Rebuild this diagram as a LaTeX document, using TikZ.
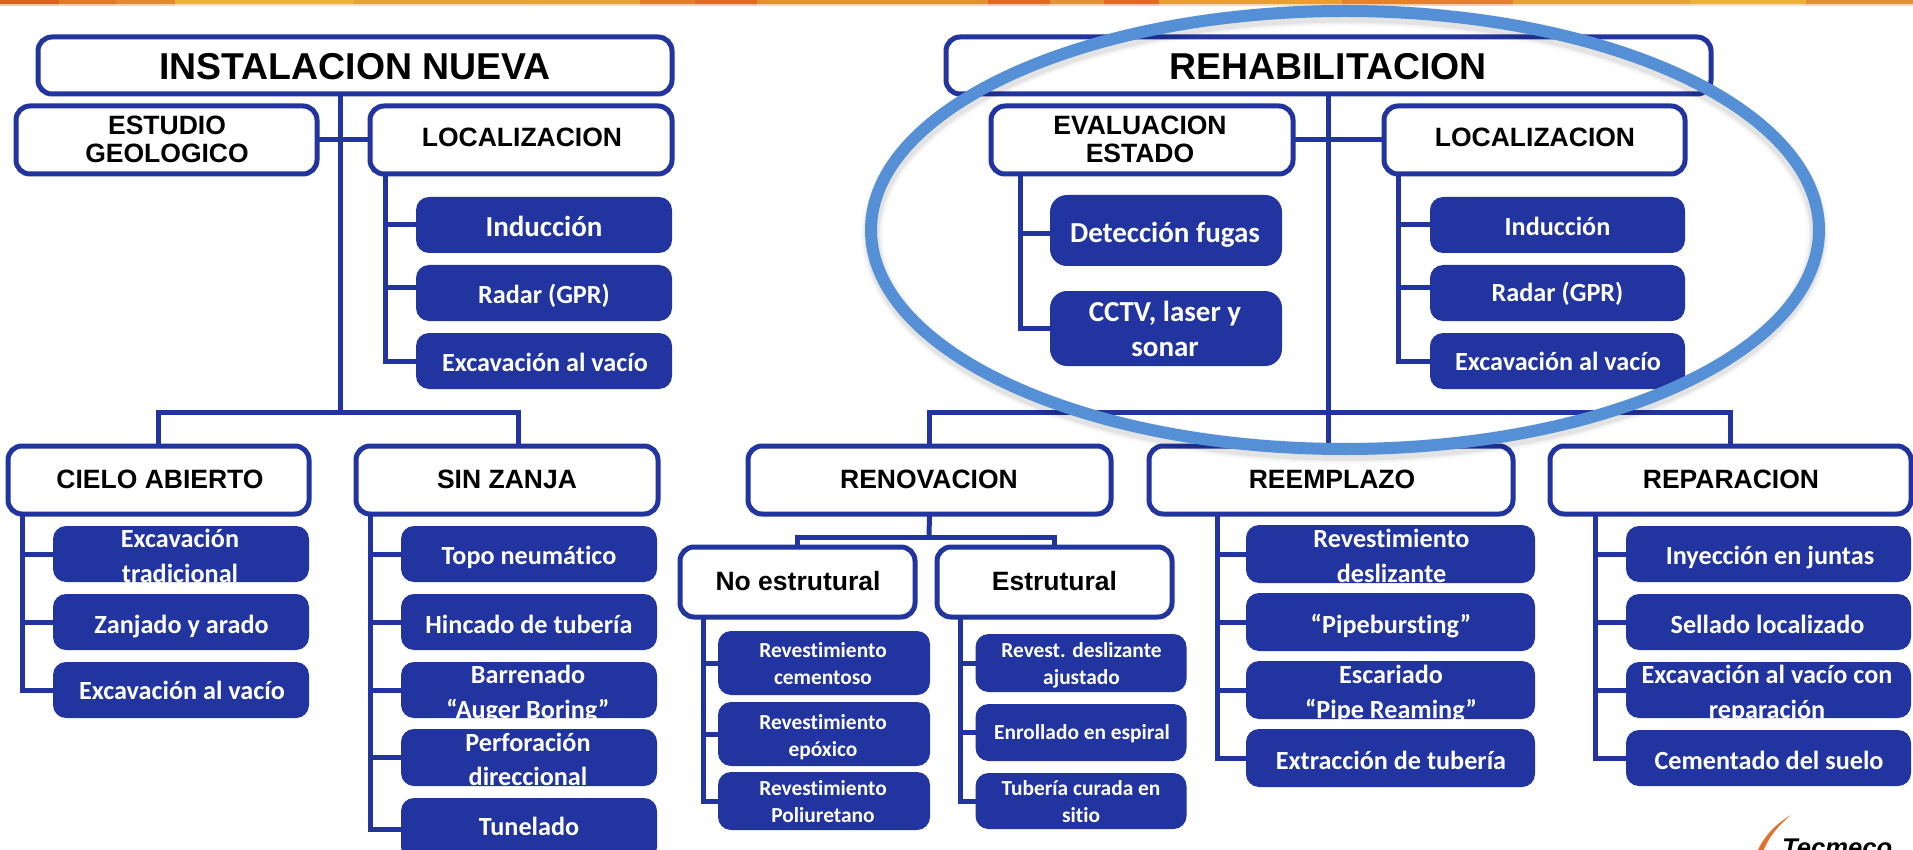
\documentclass[tikz,border=0pt]{standalone}
\usepackage{fontspec}
\setmainfont{Liberation Sans}
\newfontfamily\calib[Ligatures=NoCommon]{Carlito}
\definecolor{navy}{HTML}{21349F}
\definecolor{ringblue}{HTML}{558FD5}
\definecolor{logoorange}{HTML}{E2702A}
\tikzset{
  conn/.style={draw=navy,line width=5pt,line join=miter},
  whitebox/.style={draw=navy,line width=5pt,fill=white,rounded corners=14pt,inner sep=0pt,outer sep=0pt},
  bluebox/.style={fill=navy,draw=none,inner sep=0pt,outer sep=0pt},
  blacklabel/.style={text=black,align=center,inner sep=0pt,outer sep=0pt},
  whitelabel/.style={text=white,align=center,inner sep=0pt,outer sep=0pt},
}
\newcommand{\s}{\strut}
\def\brad{13}
% name x1 y1 x2 y2 textcentre size leading text
\newcommand{\wbox}[9]{%
  \pgfmathsetmacro\bw{#4-#2}\pgfmathsetmacro\bh{#5-#3}%
  \pgfmathsetmacro\bx{(#4+#2)/2}\pgfmathsetmacro\by{(#5+#3)/2}%
  \node[whitebox,minimum width=\bw pt,minimum height=\bh pt] (#1) at (\bx,\by) {};
  \node[blacklabel,font=\bfseries\fontsize{#7}{#8}\selectfont] (#1-t) at (#6) {#9};
}
\newcommand{\bbox}[9]{%
  \pgfmathsetmacro\bw{#4-#2}\pgfmathsetmacro\bh{#5-#3}%
  \pgfmathsetmacro\bx{(#4+#2)/2}\pgfmathsetmacro\by{(#5+#3)/2}%
  \node[bluebox,rounded corners=\brad pt,minimum width=\bw pt,minimum height=\bh pt] (#1) at (\bx,\by) {};
  \begin{scope}
    \clip[rounded corners=\brad pt] (#2,#3) rectangle (#4,#5);
    \node[whitelabel,font=\calib\bfseries\fontsize{#7}{#8}\selectfont] (#1-t) at (#6) {#9};
  \end{scope}
}
\begin{document}
\begin{tikzpicture}[x=1pt,y=-1pt]
\useasboundingbox (0,0) rectangle (1913,850);
\clip (0,0) rectangle (1913,850);
\fill[white] (0,0) rectangle (1913,850);
% top strip
\foreach \xa/\xb/\c in {0/59/E06018,59/116/E87820,116/175/E88828,175/354/F0B030,354/525/EBA030,525/640/EDA035,640/695/E87C20,695/757/E46A1A,757/988/E98F28,988/1050/E46A1A,1050/1104/E99030,1104/1159/E46A1A,1159/1342/EE9D2C,1342/1513/E88028,1513/1690/EBA030,1690/1806/F0B030,1806/1913/E89030}{
  \definecolor{stripc}{HTML}{\c}
  \fill[stripc] (\xa,0) rectangle (\xb,4);
  \fill[stripc,opacity=.35] (\xa,4) rectangle (\xb,6);
}
% junction coordinates
\coordinate (a0) at (340,94);
\coordinate (aj) at (340,412);
\coordinate (as) at (518,446);
\coordinate (b0) at (1328,94);
\coordinate (bj) at (1328,412);
\coordinate (bt) at (1328,446);
\coordinate (rj) at (416,287);
\coordinate (rk) at (1430,287);
\coordinate (dj) at (1050,234);
\coordinate (lb) at (385,174);
\coordinate (cb) at (22,514);
\coordinate (sb) at (370,514);
\coordinate (eb) at (1020,174);
\coordinate (mb) at (1398,174);
\coordinate (nb) at (703,617);
\coordinate (fb) at (960,617);
\coordinate (gb) at (1217,514);
\coordinate (pb) at (1595,514);
\coordinate (rnj) at (929,537);
\bbox{ind}{416}{197}{672}{253}{544,229.5}{29}{34}{\s Inducción}
\bbox{rad}{416}{265}{672}{321}{544,296.5}{26.2}{34}{\s Radar (GPR)}
\bbox{exv}{416}{333}{672}{389}{545,365}{26.2}{34}{\s Excavación al vacío}
\bbox{c1}{53}{526}{309}{582}{180,558}{26.2}{35}{\s Excavación\\\s tradicional}
\bbox{c2}{53}{594}{309}{650}{181.5,627}{26.2}{34}{\s Zanjado y arado}
\bbox{c3}{53}{662}{309}{718}{182,693}{26.2}{34}{\s Excavación al vacío}
\bbox{s1}{401}{526}{657}{582}{529,557.5}{26.2}{34}{\s Topo neumático}
\bbox{s2}{401}{594}{657}{650}{529,627}{26.2}{34}{\s Hincado de tubería}
\bbox{s3}{401}{662}{657}{718}{528,693.5}{26.2}{35}{\s Barrenado\\\s “Auger Boring”}
\bbox{s4}{401}{729}{657}{786}{528,761.5}{26.2}{34}{\s Perforación\\\s direccional}
\bbox{s5}{401}{798}{657}{860}{529,829}{26.2}{34}{\s Tunelado}
\def\brad{17}
\bbox{det}{1050}{195}{1282}{266}{1165,235.5}{29}{35}{\s Detección fugas}
\bbox{cct}{1050}{291}{1282}{366}{1165,332}{29}{35}{\s CCTV, laser y\\\s sonar}
\def\brad{13}
\bbox{ind2}{1430}{197}{1685}{253}{1557.5,229}{26.2}{34}{\s Inducción}
\bbox{rad2}{1430}{265}{1685}{321}{1557.5,295}{26.2}{34}{\s Radar (GPR)}
\bbox{exv2}{1430}{333}{1685}{389}{1558,364}{26.2}{34}{\s Excavación al vacío}
\bbox{n1}{718}{631}{930}{695}{823,666}{21.4}{27}{\s Revestimiento\\\s cementoso}
\bbox{n2}{718}{702}{930}{766}{823,737.5}{21.4}{26.5}{\s Revestimiento\\\s epóxico}
\bbox{n3}{718}{772}{930}{830}{823,804}{21.4}{27}{\s Revestimiento\\\s Poliuretano}
\bbox{f1}{975.5}{634}{1186.5}{692}{1081.5,665.5}{21.4}{26.5}{\s Revest. deslizante\\\s ajustado}
\bbox{f2}{975.5}{704}{1186.5}{761}{1082,734}{21.4}{26}{\s Enrollado en espiral}
\bbox{f3}{975.5}{773}{1186.5}{829}{1081,804}{21.4}{27}{\s Tubería curada en\\\s sitio}
\bbox{g1}{1246}{525}{1535}{583}{1391.5,558}{26.2}{35}{\s Revestimiento\\\s deslizante}
\bbox{g2}{1246}{593}{1535}{651}{1391,627}{26.2}{34}{\s “Pipebursting”}
\bbox{g3}{1246}{661}{1535}{719}{1391,693.5}{26.2}{35}{\s Escariado\\\s “Pipe Reaming”}
\bbox{g4}{1246}{729}{1535}{787}{1391,763}{26.2}{34}{\s Extracción de tubería}
\bbox{p1}{1626}{526}{1911}{582}{1770,557.5}{26.2}{34}{\s Inyección en juntas}
\bbox{p2}{1626}{594}{1911}{650}{1767.5,627}{26.2}{34}{\s Sellado localizado}
\bbox{p3}{1626}{662}{1911}{718}{1767,693.5}{26.2}{35}{\s Excavación al vacío con\\\s reparación}
\bbox{p4}{1626}{730}{1911}{786}{1769,763}{26.2}{34}{\s Cementado del suelo}
% connectors
\draw[conn] (a0) -- (aj);
\draw[conn] (lb) |- (ind.west);
\draw[conn] (lb) |- (rj);
\draw[conn] (lb) |- (exv.west);
\draw[conn] (cb) |- (c1.west);
\draw[conn] (cb) |- (c2.west);
\draw[conn] (cb) |- (c3.west);
\foreach \n in {s1,s2,s3,s4,s5}{\draw[conn] (sb) |- (\n.west);}
\draw[conn] (b0) -- (bt);
\draw[conn] (eb) |- (dj);
\draw[conn] (eb) |- (cct.west);
\draw[conn] (mb) |- (ind2.west);
\draw[conn] (mb) |- (rk);
\draw[conn] (mb) |- (exv2.west);
\foreach \n in {n1,n2,n3}{\draw[conn] (nb) |- (\n.west);}
\foreach \n in {f1,f2,f3}{\draw[conn] (fb) |- (\n.west);}
\foreach \n in {g1,g2,g3,g4}{\draw[conn] (gb) |- (\n.west);}
\foreach \n in {p1,p2,p3,p4}{\draw[conn] (pb) |- (\n.west);}
% white boxes
\wbox{inst}{38}{37}{672}{94}{355,71}{37.4}{41}{\s INSTALACION NUEVA}
\wbox{est}{16}{106}{317}{174}{167,143}{26.5}{28}{\s ESTUDIO\\\s GEOLOGICO}
\wbox{loc}{370}{106}{672}{174}{522,141}{26.5}{29}{\s LOCALIZACION}
\wbox{cie}{8}{446}{309}{514}{160,483}{26.5}{29}{\s CIELO ABIERTO}
\wbox{sin}{356}{446}{658}{514}{507,483}{26.5}{29}{\s SIN ZANJA}
\wbox{reh}{946}{37}{1711}{94}{1328,71}{37.4}{41}{\s REHABILITACION}
\wbox{eva}{991}{106}{1293}{174}{1140,143}{26.5}{28}{\s EVALUACION\\\s ESTADO}
\wbox{loc2}{1384}{106}{1685}{174}{1535,141}{26.5}{29}{\s LOCALIZACION}
\wbox{ren}{748}{446}{1111}{514}{929,483}{26.5}{29}{\s RENOVACION}
\wbox{ree}{1149}{446}{1513}{514}{1332,483}{26.5}{29}{\s REEMPLAZO}
\wbox{rep}{1550}{446}{1911}{514}{1731,483}{26.5}{29}{\s REPARACION}
\wbox{noe}{680}{547}{915}{617}{798,584.5}{26.5}{29}{\s No estrutural}
\wbox{esr}{937}{547}{1172}{617}{1054.5,584.5}{26.5}{29}{\s Estrutural}
% connectors between white boxes
\draw[conn] (est.east) -- (loc.west);
\draw[conn] (eva.east) -- (loc2.west);
\draw[conn] (cie.north) |- (aj) -| (as);
\draw[conn] (ren.north) |- (bj) -| (rep.north);
\draw[conn] (ren.south) -- (rnj);
\draw[conn] (noe.north) |- (rnj) -| (esr.north);
% logo
\fill[logoorange] (1791,815) .. controls (1775,824) and (1763,838) .. (1757,852) -- (1763,852) .. controls (1767,840) and (1777,826) .. (1791,815) -- cycle;
\node[inner sep=0pt,anchor=base west,font=\bfseries\itshape\fontsize{25.6}{28}\selectfont] (logo) at (1782,856) {Tecmeco};
% ring with soft shadow
\foreach \w/\o in {22/.025,18/.035,15/.05}{
  \draw[black,line width=\w pt,opacity=\o] (1345,234) ellipse [x radius=473,y radius=219];
}
\draw[ringblue,line width=12pt] (1345,230) ellipse [x radius=474,y radius=219];
\end{tikzpicture}
\end{document}
